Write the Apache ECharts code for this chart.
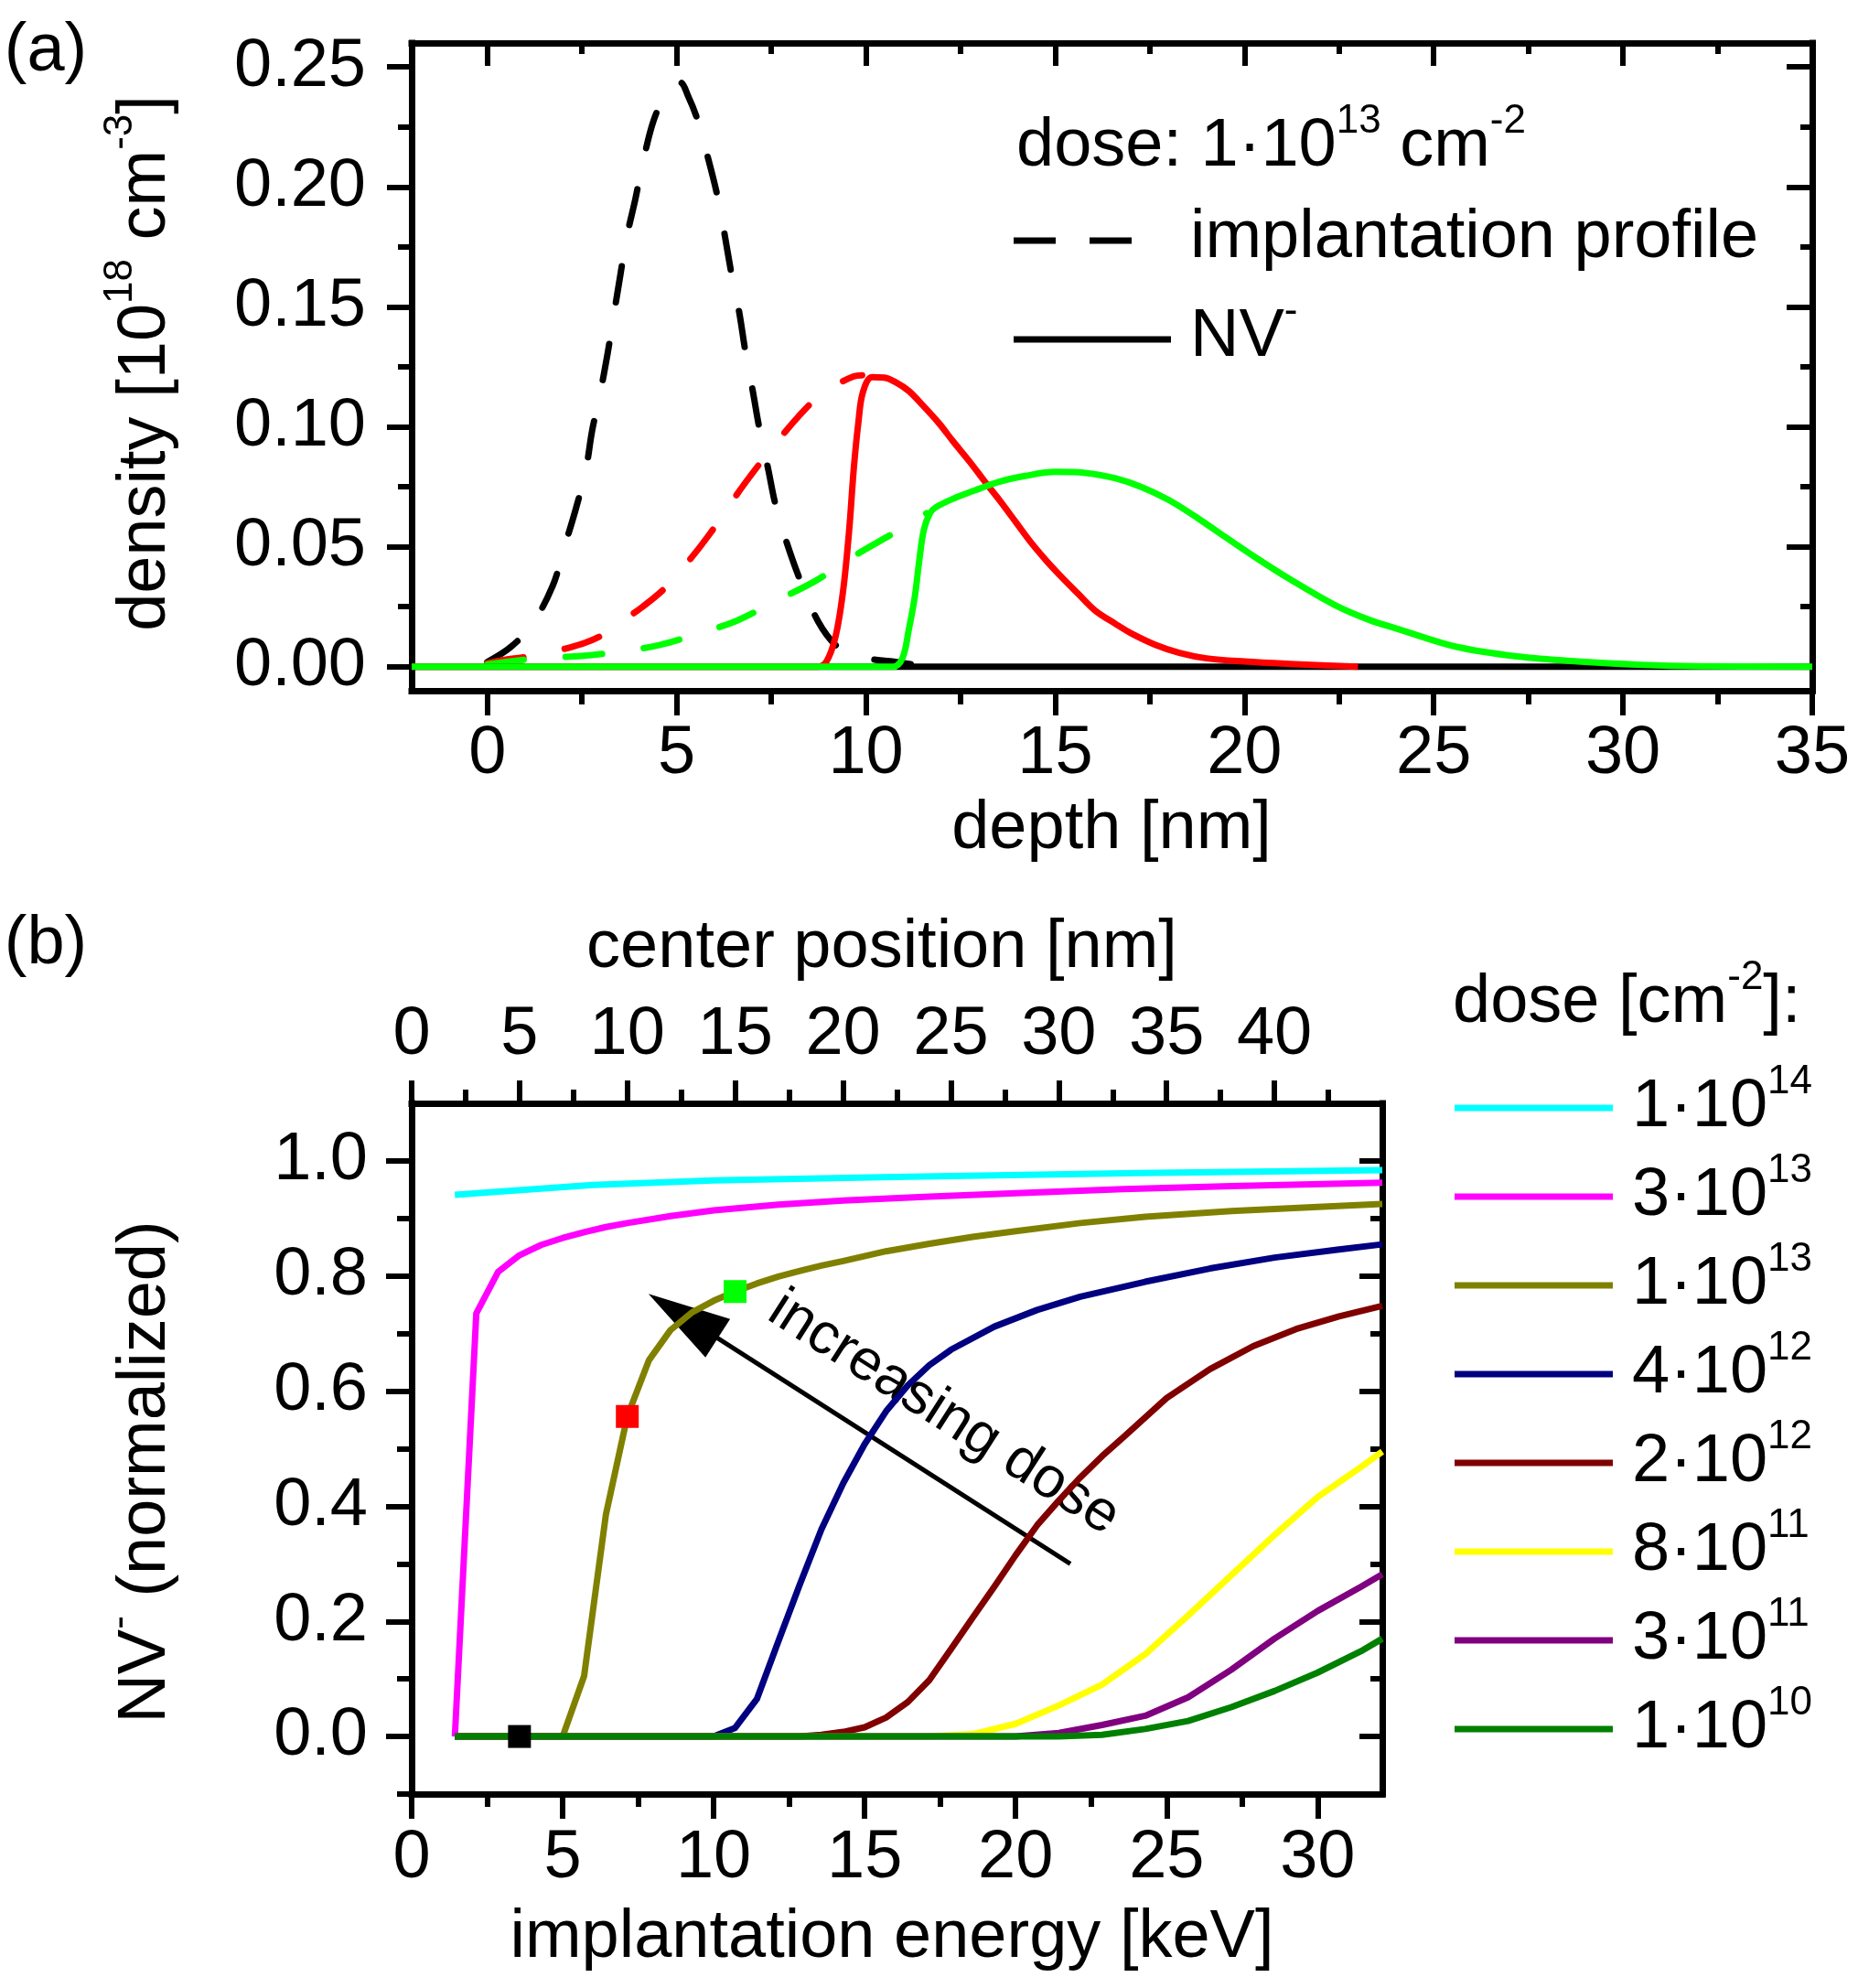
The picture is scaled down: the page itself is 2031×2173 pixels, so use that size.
<!DOCTYPE html>
<html><head><meta charset="utf-8">
<script src="https://cdn.jsdelivr.net/npm/echarts@6/dist/echarts.min.js"></script>
<style>html,body{margin:0;padding:0;background:#fff}#c{width:2031px;height:2173px}</style>
</head><body><div id="c"></div>
<script>
// ===================== Panel (a): depth profiles, dose 1e13 cm^-2 =====================
const depthTicks = [0, 5, 10, 15, 20, 25, 30, 35];
const depthMinorTicks = [2.5, 7.5, 12.5, 17.5, 22.5, 27.5, 32.5];
const densityTicks = [0, 0.05, 0.1, 0.15, 0.2, 0.25];
const densityMinorTicks = [0.025, 0.075, 0.125, 0.175, 0.225];

// implantation profiles (dashed)
const blackProfileDepth = [0, 0.6, 1.17, 1.72, 2.03, 2.34, 2.6, 2.77, 2.98, 3.17, 3.34, 3.51, 3.68, 3.91, 4.12, 4.39, 4.7, 4.94, 5.1, 5.3, 5.54, 5.83, 6.08, 6.27, 6.45, 6.65, 6.82, 7.01, 7.19, 7.41, 7.62, 7.93, 8.3, 8.74, 9.2, 9.67, 10.2, 10.64, 11.2];
const blackProfileDensity = [0.002, 0.008, 0.0174, 0.0335, 0.0496, 0.066, 0.082, 0.0986, 0.114, 0.130, 0.1466, 0.163, 0.179, 0.195, 0.211, 0.2276, 0.2385, 0.2428, 0.2435, 0.238, 0.2285, 0.212, 0.196, 0.180, 0.1636, 0.148, 0.131, 0.115, 0.099, 0.083, 0.067, 0.0507, 0.0346, 0.0188, 0.009, 0.0045, 0.003, 0.0023, 0.001];

const redProfileDepth = [0, 0.49, 1.0, 1.52, 2.05, 2.57, 3.07, 3.57, 4.1, 4.62, 5.07, 5.51, 5.88, 6.25, 6.6, 6.97, 7.36, 7.76, 8.2, 8.67, 9.17, 9.67, 9.9];
const redProfileDensity = [0.0015, 0.003, 0.004, 0.0054, 0.0075, 0.0099, 0.0135, 0.019, 0.025, 0.0317, 0.0395, 0.0478, 0.0555, 0.0636, 0.072, 0.080, 0.088, 0.0959, 0.104, 0.1115, 0.117, 0.121, 0.1215];

const greenProfileDepth = [0, 1.4, 2.49, 3.51, 4.54, 5.57, 6.59, 7.62, 8.67, 9.67, 10.72, 11.6];
const greenProfileDensity = [0.001, 0.0036, 0.0045, 0.0063, 0.009, 0.0138, 0.0192, 0.0274, 0.0358, 0.046, 0.0556, 0.064];

// NV- densities (solid)
const blackNVDepth = [-2, 35];
const blackNVDensity = [0, 0];

const redNVDepth = [-2, 8.7, 8.95, 9.2, 9.4, 9.56, 9.68, 9.8, 9.92, 10.16, 10.48, 10.8, 11.13, 11.5, 11.93, 12.3, 12.74, 13.15, 13.55, 13.95, 14.35, 14.75, 15.16, 15.6, 16.05, 16.6, 17.0, 17.64, 18.28, 19.0, 20.0, 21.2, 23];
const redNVDensity = [0, 0, 0.002, 0.0127, 0.032, 0.0574, 0.0827, 0.1017, 0.1144, 0.1207, 0.1205, 0.1185, 0.115, 0.109, 0.1015, 0.094, 0.0855, 0.077, 0.069, 0.0605, 0.052, 0.0445, 0.0375, 0.0305, 0.0235, 0.0178, 0.014, 0.0092, 0.0058, 0.0035, 0.0022, 0.0012, 0];

const greenNVDepth = [-2, 10.72, 10.97, 11.13, 11.29, 11.41, 11.53, 11.69, 11.85, 12.33, 12.88, 13.5, 14.2, 15.0, 15.8, 16.6, 17.3, 18.0, 18.76, 19.5, 20.3, 21.2, 22.4, 23.3, 24.1, 25.6, 27.2, 28.8, 30.5, 32, 35];
const greenNVDensity = [0, 0, 0.0038, 0.0152, 0.029, 0.0443, 0.057, 0.0639, 0.0665, 0.0702, 0.0735, 0.077, 0.0795, 0.0812, 0.0808, 0.0785, 0.0748, 0.0695, 0.062, 0.054, 0.0455, 0.0365, 0.0256, 0.0195, 0.0155, 0.0083, 0.0043, 0.0022, 0.0008, 0.0002, 0];

// ===================== Panel (b): normalized NV- vs implantation energy =====================
const energyTicks = [0, 5, 10, 15, 20, 25, 30];
const energyMinorTicks = [2.5, 7.5, 12.5, 17.5, 22.5, 27.5];
const centerTicks = [0, 5, 10, 15, 20, 25, 30, 35, 40];
const centerMinorTicks = [2.5, 7.5, 12.5, 17.5, 22.5, 27.5, 32.5, 37.5, 42.5];
const normTicks = [0, 0.2, 0.4, 0.6, 0.8, 1.0];
const normMinorTicks = [-0.1, 0.1, 0.3, 0.5, 0.7, 0.9];
const energyMax = 32.14;   // keV at right frame
const centerMax = 45;      // nm at right frame

const doseLabels = ['1·10^14', '3·10^13', '1·10^13', '4·10^12', '2·10^12', '8·10^11', '3·10^11', '1·10^10'];

const dose1e14Energy = [1.43, 3.0, 6.0, 10.0, 16.0, 24.0, 32.14];
const dose1e14NV = [0.941, 0.947, 0.958, 0.966, 0.972, 0.979, 0.984];

const dose3e13Energy = [1.43, 2.14, 2.86, 3.57, 4.29, 5.0, 5.71, 6.43, 7.14, 8.57, 10.0, 12.14, 14.29, 17.14, 20.0, 23.57, 27.14, 32.14];
const dose3e13NV = [0, 0.735, 0.807, 0.836, 0.854, 0.866, 0.876, 0.885, 0.892, 0.904, 0.914, 0.924, 0.931, 0.938, 0.944, 0.951, 0.956, 0.962];

const dose1e13Energy = [1.43, 5.0, 5.71, 6.43, 7.14, 7.86, 8.57, 9.29, 10.0, 10.71, 11.43, 12.14, 12.86, 13.57, 14.29, 15.71, 17.14, 18.57, 20.0, 22.14, 24.29, 27.14, 30.0, 32.14];
const dose1e13NV = [0, 0, 0.105, 0.385, 0.556, 0.654, 0.706, 0.737, 0.757, 0.773, 0.787, 0.799, 0.809, 0.818, 0.826, 0.843, 0.856, 0.868, 0.878, 0.892, 0.903, 0.913, 0.92, 0.925];

const dose4e12Energy = [1.43, 10.0, 10.71, 11.43, 12.14, 12.86, 13.57, 14.29, 15.0, 15.71, 16.43, 17.14, 17.86, 19.29, 20.71, 22.14, 24.29, 26.43, 28.57, 30.71, 32.14];
const dose4e12NV = [0, 0, 0.015, 0.065, 0.165, 0.265, 0.36, 0.44, 0.508, 0.565, 0.61, 0.645, 0.672, 0.712, 0.741, 0.764, 0.79, 0.813, 0.832, 0.846, 0.855];

const dose2e12Energy = [1.43, 12.86, 13.57, 14.29, 15.0, 15.71, 16.43, 17.14, 17.86, 18.57, 19.29, 20.0, 20.71, 21.43, 22.14, 22.86, 23.57, 25.0, 26.43, 27.86, 29.29, 30.71, 32.14];
const dose2e12NV = [0, 0, 0.003, 0.008, 0.016, 0.033, 0.06, 0.098, 0.152, 0.206, 0.26, 0.315, 0.367, 0.41, 0.45, 0.487, 0.52, 0.588, 0.638, 0.678, 0.708, 0.73, 0.748];

const dose8e11Energy = [1.43, 17.14, 18.57, 20.0, 21.43, 22.86, 24.29, 25.71, 27.14, 28.57, 30.0, 31.43, 32.14];
const dose8e11NV = [0, 0, 0.004, 0.022, 0.054, 0.09, 0.143, 0.21, 0.28, 0.35, 0.416, 0.468, 0.495];

const dose3e11Energy = [1.43, 20.0, 21.43, 22.86, 24.29, 25.71, 27.14, 28.57, 30.0, 31.43, 32.14];
const dose3e11NV = [0, 0, 0.006, 0.02, 0.036, 0.068, 0.116, 0.17, 0.218, 0.26, 0.282];

const dose1e10Energy = [1.43, 21.43, 22.86, 24.29, 25.71, 27.14, 28.57, 30.0, 31.43, 32.14];
const dose1e10NV = [0, 0, 0.003, 0.013, 0.027, 0.051, 0.079, 0.111, 0.148, 0.17];

// squares on the 1e13 curve: centres at 5, 10, 15 nm
const markerEnergy = [3.57, 7.14, 10.71];
const markerNV = [0.0, 0.556, 0.773];

// "increasing dose" arrow (energy, NV)
const arrowTail = [21.81, 0.300];
const arrowTip = [7.84, 0.769];
const arrowLabelAt = [17.62, 0.561];

// ===================== chart =====================
const FONT = '"Liberation Sans", Arimo, Arial, sans-serif';
const pairs = (xs, ys) => xs.map((x, i) => [x, ys[i]]);

function ax(o) {
  const base = {
    type: 'value', axisLine: { show: false, onZero: false },
    axisTick: { show: false }, axisLabel: { show: false },
    splitLine: { show: false }, minorTick: { show: false }, minorSplitLine: { show: false }
  };
  return Object.assign(base, o);
}
const lineSt = { color: '#000', width: 7, cap: 'square' };
function major(o) {
  return ax(Object.assign({ axisLine: { show: true, onZero: false, lineStyle: lineSt } }, o));
}
function ticks(vals, len, inside) {
  return { show: true, customValues: vals, length: len, inside: !!inside, lineStyle: { color: '#000', width: 6 } };
}
function labels(vals, margin, fmt) {
  return { show: true, customValues: vals, margin: margin, color: '#000', fontSize: 74, fontFamily: FONT,
           formatter: fmt, showMinLabel: true, showMaxLabel: true, hideOverlap: false };
}

const xAxes = [
  // panel (a)
  major({ gridIndex: 0, position: 'bottom', min: -2, max: 35, axisTick: ticks(depthTicks, 27), axisLabel: labels(depthTicks, 33, v => String(v)) }),
  ax({ gridIndex: 0, position: 'bottom', min: -2, max: 35, axisTick: ticks(depthMinorTicks, 15) }),
  major({ gridIndex: 0, position: 'top', min: -2, max: 35, axisTick: ticks(depthTicks, 25, true) }),
  ax({ gridIndex: 0, position: 'top', min: -2, max: 35, axisTick: ticks(depthMinorTicks, 12, true) }),
  // panel (b)
  major({ gridIndex: 1, position: 'bottom', min: 0, max: energyMax, axisTick: ticks(energyTicks, 27), axisLabel: labels(energyTicks, 34, v => String(v)) }),
  ax({ gridIndex: 1, position: 'bottom', min: 0, max: energyMax, axisTick: ticks(energyMinorTicks, 14) }),
  major({ gridIndex: 1, position: 'top', min: 0, max: centerMax, axisTick: ticks(centerTicks, 25), axisLabel: labels(centerTicks, 37, v => String(v)) }),
  ax({ gridIndex: 1, position: 'top', min: 0, max: centerMax, axisTick: ticks(centerMinorTicks, 15) })
];
const yAxes = [
  major({ gridIndex: 0, position: 'left', min: -0.01, max: 0.26, axisTick: ticks(densityTicks, 27), axisLabel: labels(densityTicks, 50, v => v.toFixed(2)) }),
  ax({ gridIndex: 0, position: 'left', min: -0.01, max: 0.26, axisTick: ticks(densityMinorTicks, 15) }),
  major({ gridIndex: 0, position: 'right', min: -0.01, max: 0.26, axisTick: ticks(densityTicks, 28, true) }),
  ax({ gridIndex: 0, position: 'right', min: -0.01, max: 0.26, axisTick: ticks(densityMinorTicks, 13, true) }),
  major({ gridIndex: 1, position: 'left', min: -0.1, max: 1.1, axisTick: ticks(normTicks, 28), axisLabel: labels(normTicks, 48, v => v.toFixed(1)) }),
  ax({ gridIndex: 1, position: 'left', min: -0.1, max: 1.1, axisTick: ticks(normMinorTicks, 16) }),
  major({ gridIndex: 1, position: 'right', min: -0.1, max: 1.1, axisTick: ticks(normTicks, 25, true) }),
  ax({ gridIndex: 1, position: 'right', min: -0.1, max: 1.1, axisTick: ticks(normMinorTicks, 13, true) })
];

function aLine(name, xs, ys, color, dashed) {
  return {
    type: 'line', name: name, xAxisIndex: 0, yAxisIndex: 0, data: pairs(xs, ys),
    symbol: 'none', showSymbol: false, smooth: 0.35, color: color,
    lineStyle: { color: color, width: 7, type: dashed ? [40, 46] : 'solid', cap: dashed ? 'round' : 'butt', join: 'round' },
    silent: true
  };
}
const aSeries = [
  aLine('prof black', blackProfileDepth, blackProfileDensity, '#000000', true),
  aLine('prof red', redProfileDepth, redProfileDensity, '#FF0000', true),
  aLine('prof green', greenProfileDepth, greenProfileDensity, '#00FF00', true),
  aLine('nv black', blackNVDepth, blackNVDensity, '#000000', false),
  aLine('nv red', redNVDepth, redNVDensity, '#FF0000', false),
  aLine('nv green', greenNVDepth, greenNVDensity, '#00FF00', false)
];

const bColors = ['#00FFFF', '#FF00FF', '#808000', '#000080', '#800000', '#FFFF00', '#800080', '#008000'];
const bData = [
  [dose1e14Energy, dose1e14NV], [dose3e13Energy, dose3e13NV], [dose1e13Energy, dose1e13NV], [dose4e12Energy, dose4e12NV],
  [dose2e12Energy, dose2e12NV], [dose8e11Energy, dose8e11NV], [dose3e11Energy, dose3e11NV], [dose1e10Energy, dose1e10NV]
];
const bSeries = bData.map((d, i) => ({
  type: 'line', name: doseLabels[i], xAxisIndex: 4, yAxisIndex: 4, data: pairs(d[0], d[1]),
  symbol: 'none', showSymbol: false, color: bColors[i],
  lineStyle: { color: bColors[i], width: 7, join: 'round' }, silent: true
}));
const markerColors = ['#000000', '#FF0000', '#00FF00'];
bSeries.push({
  type: 'scatter', name: 'markers', xAxisIndex: 4, yAxisIndex: 4, symbol: 'rect', symbolSize: 25, z: 5,
  data: markerEnergy.map((x, i) => ({ value: [x, markerNV[i]], itemStyle: { color: markerColors[i], opacity: 1 } })),
  itemStyle: { opacity: 1 },
  silent: true
});

const chart = echarts.init(document.getElementById('c'), null, { renderer: 'canvas' });
chart.setOption({
  animation: false,
  backgroundColor: '#ffffff',
  textStyle: { fontFamily: FONT },
  grid: [
    { left: 450, top: 47, width: 1531, height: 708, outerBoundsMode: 'none', containLabel: false },
    { left: 450, top: 1206, width: 1061, height: 755, outerBoundsMode: 'none', containLabel: false }
  ],
  xAxis: xAxes,
  yAxis: yAxes,
  legend: {
    data: doseLabels, orient: 'vertical', left: 1585, top: 1156, itemWidth: 173, itemHeight: 7, itemGap: 10,
    icon: 'rect', selectedMode: false,
    formatter: n => { const p = n.split('^'); return '{m|' + p[0] + '}{s|' + p[1] + '}'; },
    textStyle: {
      color: '#000', padding: [0, 0, 0, 16], fontFamily: FONT,
      rich: {
        m: { fontSize: 74, lineHeight: 100, fontFamily: FONT, color: '#000' },
        s: { fontSize: 44, lineHeight: 44, fontFamily: FONT, color: '#000', verticalAlign: 'top' }
      }
    }
  },
  series: aSeries.concat(bSeries)
});

// ----- annotations -----
const richTxt = {
  m: { fontSize: 74, lineHeight: 100, fontFamily: FONT, fill: '#000' },
  s: { fontSize: 44, lineHeight: 44, fontFamily: FONT, fill: '#000', verticalAlign: 'top' }
};
function txt(text, x, y, opt) {
  opt = opt || {};
  return {
    type: 'text', x: x, y: y, rotation: opt.rotation || 0, silent: true,
    style: { text: text, rich: richTxt, fill: '#000', fontSize: opt.fontSize || 74, fontFamily: FONT,
             align: opt.align || 'center', verticalAlign: 'middle' }
  };
}
const g = [];
g.push(txt('{m|(a)}', 50, 57));
g.push(txt('{m|(b)}', 50, 1033));
g.push(txt('{m|depth [nm]}', 1215, 907));
g.push(txt('{m|density [10}{s|18}{m| cm}{s|-3}{m|]}', 160, 397, { rotation: Math.PI / 2 }));
g.push(txt('{m|center position [nm]}', 964, 1037));
g.push(txt('{m|implantation energy [keV]}', 975, 2119));
g.push(txt('{m|NV}{s|-}{m| (normalized)}', 160, 1609, { rotation: Math.PI / 2 }));
g.push(txt('{m|dose [cm}{s|-2}{m|]:}', 1588, 1097, { align: 'left' }));
// panel (a) legend
g.push(txt('{m|dose: 1·10}{s|13}{m| cm}{s|-2}', 1111, 161, { align: 'left' }));
g.push({ type: 'line', silent: true, shape: { x1: 1108, y1: 263, x2: 1240, y2: 263 }, style: { stroke: '#000', lineWidth: 7, lineDash: [46, 37] } });
g.push(txt('{m|implantation profile}', 1301, 261, { align: 'left' }));
g.push({ type: 'line', silent: true, shape: { x1: 1108, y1: 371, x2: 1280, y2: 371 }, style: { stroke: '#000', lineWidth: 7 } });
g.push(txt('{m|NV}{s|-}', 1301, 369, { align: 'left' }));

// arrow in panel (b)
const fnd = { xAxisIndex: 4, yAxisIndex: 4 };
const pT = chart.convertToPixel(fnd, arrowTail);
const pH = chart.convertToPixel(fnd, arrowTip);
const dx = pH[0] - pT[0], dy = pH[1] - pT[1];
const L = Math.sqrt(dx * dx + dy * dy);
const ux = dx / L, uy = dy / L;
const headLen = 90, headHalf = 25;
const bx = pH[0] - ux * headLen, by = pH[1] - uy * headLen;
g.push({ type: 'line', silent: true, shape: { x1: pT[0], y1: pT[1], x2: bx + ux * 10, y2: by + uy * 10 }, style: { stroke: '#000', lineWidth: 5 } });
g.push({ type: 'polygon', silent: true, shape: { points: [[pH[0], pH[1]], [bx - uy * headHalf, by + ux * headHalf], [bx + uy * headHalf, by - ux * headHalf]] }, style: { fill: '#000' } });
const pL = chart.convertToPixel(fnd, arrowLabelAt);
const ang = Math.atan2(-dy, -dx);
g.push({ type: 'text', x: pL[0], y: pL[1], rotation: -ang, silent: true,
         style: { text: 'increasing dose', fill: '#000', fontSize: 63, fontFamily: FONT, align: 'center', verticalAlign: 'middle' } });

chart.setOption({ graphic: g });
</script></body></html>
